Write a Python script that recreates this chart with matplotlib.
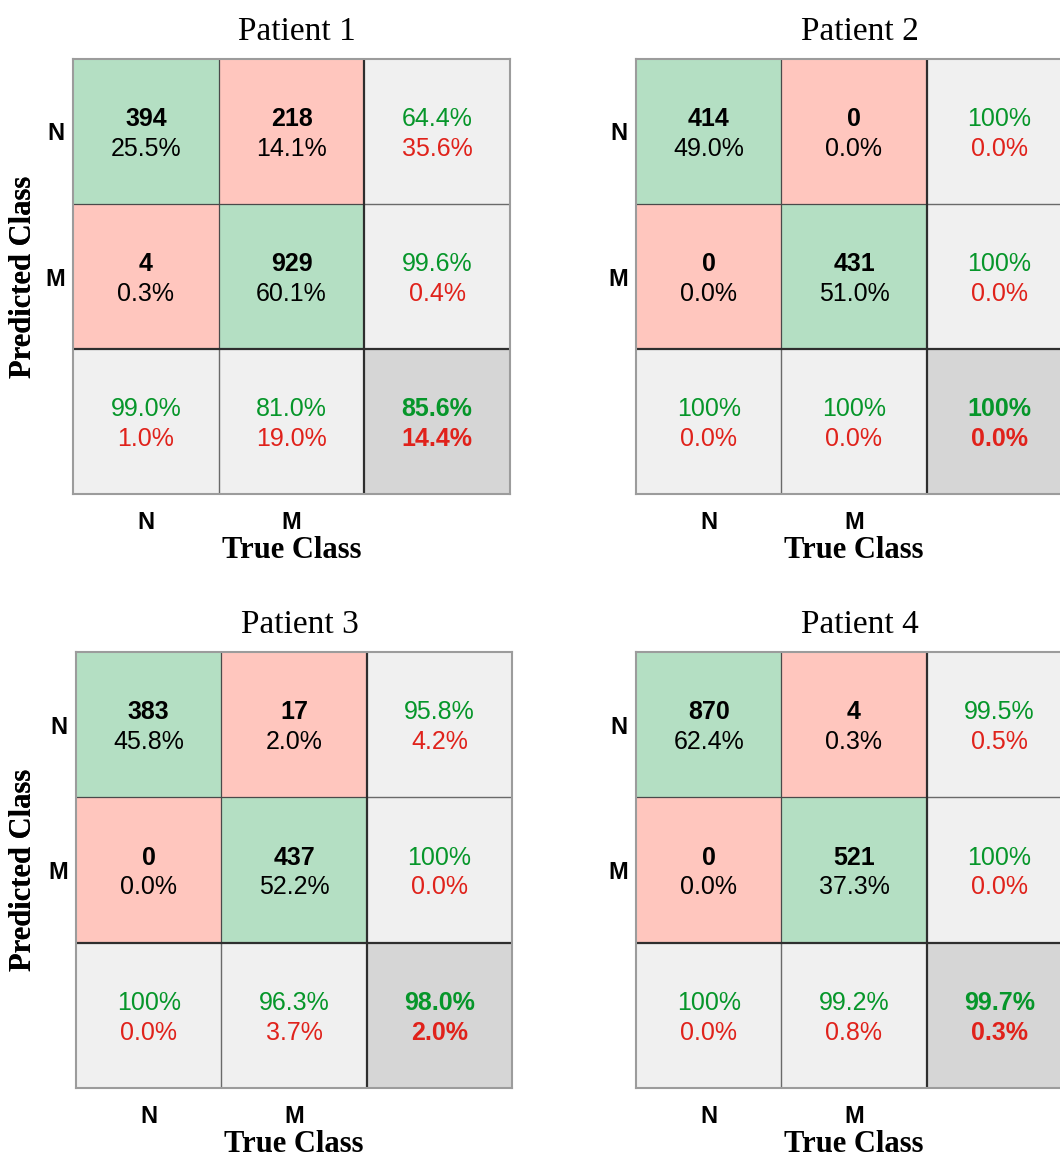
import numpy as np
import matplotlib.pyplot as plt
from matplotlib.colors import ListedColormap

# Confusion matrices: rows = predicted class, columns = true class
patients = ["Patient 1", "Patient 2", "Patient 3", "Patient 4"]
classes = ["N", "M"]
cm_p1 = [[394, 218], [4, 929]]
cm_p2 = [[414, 0], [0, 431]]
cm_p3 = [[383, 17], [0, 437]]
cm_p4 = [[870, 4], [0, 521]]
matrices = [cm_p1, cm_p2, cm_p3, cm_p4]

SANS = ["Liberation Sans", "DejaVu Sans"]
SERIF = ["Liberation Serif", "DejaVu Serif"]

GREEN_BG = "#B4DFC3"
RED_BG = "#FFC6BE"
LIGHT_BG = "#F0F0F0"
DARK_BG = "#D6D6D6"
GREEN_TXT = "#06962A"
RED_TXT = "#E0221B"

W, H = 1060, 1159
DPI = 100
# panel placement in pixels: left, top, width, height
panel_px = [(73, 59, 437, 435), (636, 59, 436, 435),
            (76, 652, 436, 436), (636, 652, 436, 436)]


def fmt_pct(p):
    if round(p, 1) >= 100:
        return "100%"
    return f"{p:.1f}%"


def draw_confusion(ax, cm, title):
    cm = np.asarray(cm, dtype=float)
    n = cm.shape[0]
    total = cm.sum()

    # background categories: 0 correct, 1 wrong, 2 summary, 3 overall
    cat = np.full((n + 1, n + 1), 2)
    for r in range(n):
        for c in range(n):
            cat[r, c] = 0 if r == c else 1
    cat[n, n] = 3
    cmap = ListedColormap([GREEN_BG, RED_BG, LIGHT_BG, DARK_BG])
    ax.pcolormesh(np.arange(n + 2), np.arange(n + 2), cat, cmap=cmap,
                  vmin=-0.5, vmax=3.5, shading="flat")
    ax.set_xlim(0, n + 1)
    ax.set_ylim(n + 1, 0)

    up, dn = -0.085, 0.12
    fs = 18
    for r in range(n):
        for c in range(n):
            ax.text(c + 0.5, r + 0.5 + up, f"{int(cm[r, c])}", ha="center", va="center",
                    fontsize=fs, fontweight="bold", family=SANS, color="black")
            ax.text(c + 0.5, r + 0.5 + dn, fmt_pct(100 * cm[r, c] / total), ha="center",
                    va="center", fontsize=fs, family=SANS, color="black")

    # row summary (precision) on the right column
    for r in range(n):
        good = 100 * cm[r, r] / cm[r, :].sum()
        ax.text(n + 0.5, r + 0.5 + up, fmt_pct(good), ha="center", va="center",
                fontsize=fs, family=SANS, color=GREEN_TXT)
        ax.text(n + 0.5, r + 0.5 + dn, fmt_pct(100 - good), ha="center", va="center",
                fontsize=fs, family=SANS, color=RED_TXT)
    # column summary (recall) on the bottom row
    for c in range(n):
        good = 100 * cm[c, c] / cm[:, c].sum()
        ax.text(c + 0.5, n + 0.5 + up, fmt_pct(good), ha="center", va="center",
                fontsize=fs, family=SANS, color=GREEN_TXT)
        ax.text(c + 0.5, n + 0.5 + dn, fmt_pct(100 - good), ha="center", va="center",
                fontsize=fs, family=SANS, color=RED_TXT)
    acc = 100 * np.trace(cm) / total
    ax.text(n + 0.5, n + 0.5 + up, fmt_pct(acc), ha="center", va="center",
            fontsize=fs, fontweight="bold", family=SANS, color=GREEN_TXT)
    ax.text(n + 0.5, n + 0.5 + dn, fmt_pct(100 - acc), ha="center", va="center",
            fontsize=fs, fontweight="bold", family=SANS, color=RED_TXT)

    # cell borders
    for k in range(1, n):
        ax.plot([k, k], [0, n], color="#4a4a4a", lw=0.9)
        ax.plot([0, n], [k, k], color="#4a4a4a", lw=0.9)
        ax.plot([k, k], [n, n + 1], color="#6a6a6a", lw=1.0)
        ax.plot([n, n + 1], [k, k], color="#6a6a6a", lw=1.0)
    ax.plot([n, n], [0, n + 1], color="#2e2e2e", lw=1.6)
    ax.plot([0, n + 1], [n, n], color="#2e2e2e", lw=1.6)
    for s in ax.spines.values():
        s.set_color("#9c9c9c")
        s.set_linewidth(1.5)

    ax.set_xticks(np.arange(n) + 0.5)
    ax.set_xticklabels(classes, fontsize=17, fontweight="bold", family=SANS)
    ax.set_yticks(np.arange(n) + 0.5)
    ax.set_yticklabels(classes, fontsize=17, fontweight="bold", family=SANS)
    ax.tick_params(axis="both", length=0)
    ax.tick_params(axis="x", pad=12)
    ax.tick_params(axis="y", pad=6)

    ax.set_xlabel("True Class", fontsize=22, fontweight="bold", family=SERIF)
    ax.set_ylabel("Predicted Class", fontsize=22, fontweight="bold", family=SERIF)
    ax.text(0.513, 1.044, title, transform=ax.transAxes, ha="center", va="baseline",
            fontsize=24, family=SERIF)


fig = plt.figure(figsize=(W / DPI, H / DPI), dpi=DPI)
for (l, t, w, h), cm, title in zip(panel_px, matrices, patients):
    ax = fig.add_axes([l / W, 1 - (t + h) / H, w / W, h / H])
    draw_confusion(ax, cm, title)
    # axis titles sit a fixed pixel distance from the grid
    ax.xaxis.set_label_coords(0.5, -56 / h)
    ax.xaxis.label.set_va("center")
    ax.yaxis.set_label_coords(-(l - 24) / w, 0.5)
    ax.yaxis.label.set_va("center")

fig.savefig("out.png", dpi=DPI, facecolor="white")
